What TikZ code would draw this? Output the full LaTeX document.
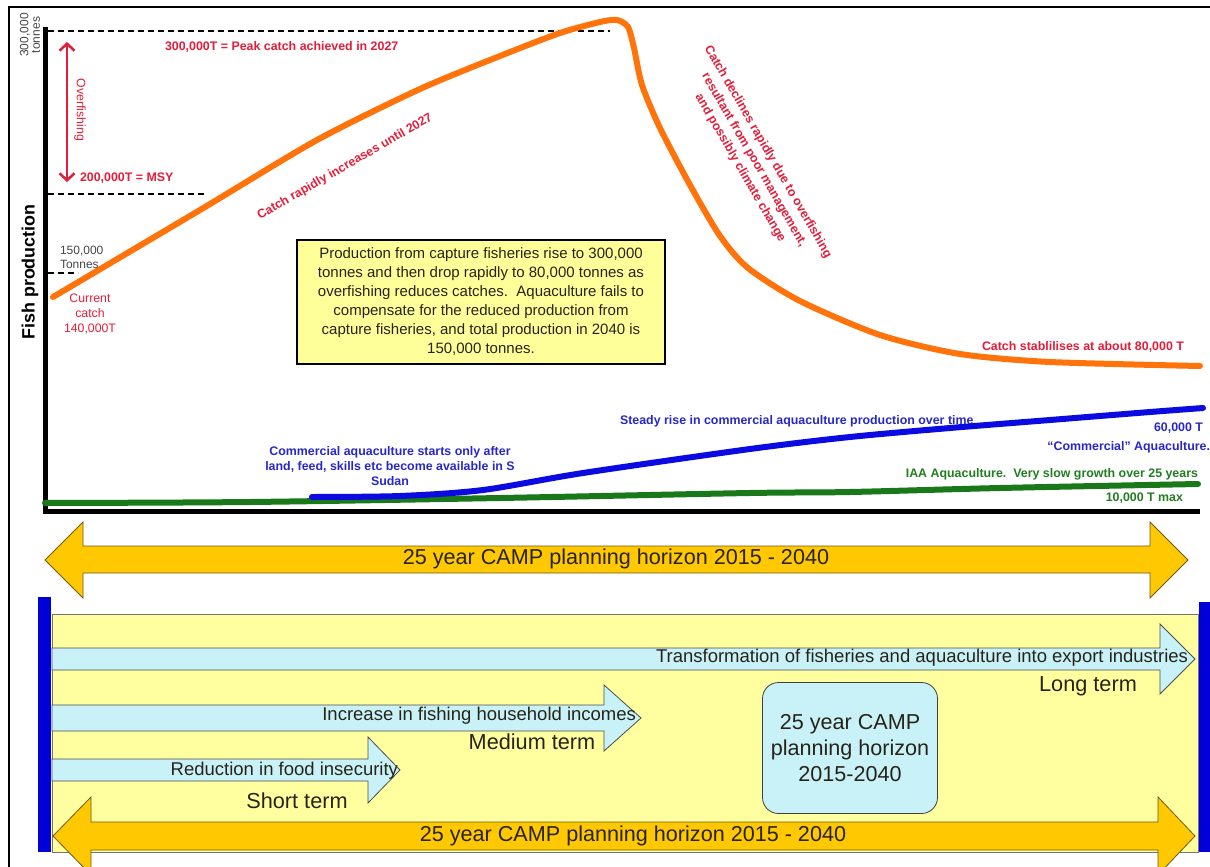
\documentclass[tikz,border=0pt]{standalone}
\usepackage{fontspec}
\setmainfont{Liberation Sans}
\usetikzlibrary{arrows.meta}
\definecolor{txtred}{RGB}{228,30,58}
\definecolor{curveorange}{RGB}{255,115,10}
\definecolor{curveblue}{RGB}{10,10,225}
\definecolor{txtblue}{RGB}{40,40,200}
\definecolor{curvegreen}{RGB}{25,120,25}
\definecolor{txtgreen}{RGB}{35,125,35}
\definecolor{boxyellow}{RGB}{255,255,153}
\definecolor{bgyellow}{RGB}{255,255,160}
\definecolor{gold}{RGB}{255,200,0}
\definecolor{goldedge}{RGB}{110,90,20}
\definecolor{paleblue}{RGB}{200,242,248}
\definecolor{barblue}{RGB}{0,0,215}
\definecolor{darkgraytxt}{RGB}{70,70,70}
\definecolor{darktxt}{RGB}{40,35,25}
\tikzset{
  every node/.style={inner sep=0pt, outer sep=0pt},
  smalltxt/.style={font=\fontsize{12.3}{14}\selectfont},
  boldtxt/.style={font=\fontsize{12.4}{15}\selectfont\bfseries},
  redbold/.style={boldtxt, text=txtred},
  bluebold/.style={boldtxt, text=txtblue},
  greenbold/.style={boldtxt, text=txtgreen},
  dashline/.style={black, line width=2.4pt, dash pattern=on 6pt off 4pt},
  curve/.style={line width=6pt, line cap=round, line join=round},
  goldarrow/.style={fill=gold, draw=goldedge, line width=0.8pt},
  cyanarrow/.style={fill=paleblue, draw=black!70, line width=0.8pt},
  arrowtxt/.style={font=\fontsize{18.5}{20}\selectfont, text=darktxt},
  termtxt/.style={font=\fontsize{21.7}{24}\selectfont, text=darktxt},
  bigtxt/.style={font=\fontsize{21.6}{26}\selectfont, text=darktxt},
}
\begin{document}
\begin{tikzpicture}[x=1pt,y=-1pt]
\useasboundingbox (0,0) rectangle (1210,867);
\fill[white] (0,0) rectangle (1210,867);

% outer frame
\draw[line width=2.5pt] (9,875) -- (9,7) -- (1215,7);

% axes
\coordinate (ytop) at (45,27);
\coordinate (orig) at (45,511);
\coordinate (xend) at (1200,511);
\draw[line width=5pt] (ytop) -- (orig) -- (xend);

% dashed reference lines
\coordinate (d1a) at (48,31);  \coordinate (d1b) at (610,31);
\coordinate (d2a) at (48,194); \coordinate (d2b) at (207,194);
\coordinate (d3a) at (48,273); \coordinate (d3b) at (78,273);
\draw[dashline] (d1a) -- (d1b);
\draw[dashline] (d2a) -- (d2b);
\draw[dashline] (d3a) -- (d3b);

% overfishing arrow
\coordinate (ofa) at (67,42);
\coordinate (ofb) at (67,182);
\draw[txtred, line width=2.5pt, {Straight Barb[length=7pt,width=15pt]}-{Straight Barb[length=7pt,width=15pt]}] (ofa) -- (ofb);

% curves
\draw[curve, curvegreen] plot[smooth, tension=0.5] coordinates {(45,503) (250,502) (500,498) (750,493) (850,492) (1000,488) (1198,484)};
\draw[curve, curveblue] plot[smooth, tension=0.5] coordinates {(312,497) (400,496) (483,490) (583,473) (750,449) (850,437) (950,428) (1050,420) (1150,412) (1203,408)};
\draw[curve, curveorange] plot[smooth, tension=0.45] coordinates {(53,297) (200,210) (317,140) (420,89) (500,56) (560,33) (600,22) (617,20) (628,27) (634,48) (642,85) (660,128) (690,185) (720,236) (748,268) (800,301) (880,335) (960,354) (1050,362) (1200,366)};

% axis labels
\node[font=\fontsize{12}{11.5}\selectfont, text=darkgraytxt, rotate=90, align=center] (ymaxlbl) at (30,35) {300,000\\tonnes};
\node[font=\fontsize{17.9}{20}\selectfont\bfseries, rotate=90] (ylbl) at (30,272) {Fish production};

% chart annotations
\node[redbold, anchor=west] (peak) at (165,47) {300,000T = Peak catch achieved in 2027};
\node[redbold, anchor=west] (msy) at (80,178) {200,000T = MSY};
\node[smalltxt, text=txtred, rotate=-90] (overf) at (80,110) {Overfishing};
\node[font=\fontsize{12}{14}\selectfont, text=darkgraytxt, align=left, anchor=west] (t150) at (60,257) {150,000\\Tonnes};
\node[font=\fontsize{12.3}{15}\selectfont, text=txtred, align=center] (curr) at (90,314) {Current\\catch\\140,000T};
\node[redbold, rotate=30] (incr) at (345,167) {Catch rapidly increases until 2027};
\node[font=\fontsize{12.4}{16}\selectfont\bfseries, text=txtred, rotate=-60, align=center] (decl) at (754,160) {Catch declines rapidly due to overfishing\\resultant from poor management,\\and possibly climate change};
\node[draw=black, line width=1.2pt, fill=boxyellow, minimum width=368pt, minimum height=124pt, align=center, font=\fontsize{15}{19}\selectfont, text=darktxt] (summary) at (481,302) {Production from capture fisheries rise to 300,000\\tonnes and then drop rapidly to 80,000 tonnes as\\overfishing reduces catches.\ \ Aquaculture fails to\\compensate for the reduced production from\\capture fisheries, and total production in 2040 is\\150,000 tonnes.};
\node[redbold, anchor=west] (stab) at (982,347) {Catch stablilises at about 80,000 T};
\node[bluebold, anchor=west] (steady) at (620,421) {Steady rise in commercial aquaculture production over time};
\node[bluebold, align=center] (comstart) at (390,466) {Commercial aquaculture starts only after\\land, feed, skills etc become available in S\\Sudan};
\node[bluebold, anchor=east] (sixty) at (1203,428) {60,000 T};
\node[bluebold, anchor=east] (comaq) at (1210,447) {“Commercial” Aquaculture.};
\node[greenbold, anchor=east] (iaa) at (1198,474) {IAA Aquaculture.\ \ Very slow growth over 25 years};
\node[greenbold, anchor=east] (tenk) at (1183,498) {10,000 T max};

% upper planning horizon arrow
\draw[goldarrow] (45,560) -- (83,522) -- (83,546) -- (1150,546) -- (1150,522) -- (1188,560) -- (1150,598) -- (1150,573) -- (83,573) -- (83,598) -- cycle;
\node[bigtxt] (hor1) at (616,559) {25 year CAMP planning horizon 2015 - 2040};

% lower panel
\fill[bgyellow, draw=black!55, line width=1pt] (52,614) rectangle (1198,852);

\draw[cyanarrow] (52,648) -- (1160,648) -- (1160,624) -- (1195,659) -- (1160,694) -- (1160,670) -- (52,670) -- cycle;
\node[arrowtxt, anchor=east] (trans) at (1188,658) {Transformation of fisheries and aquaculture into export industries};
\node[termtxt] (longt) at (1088,686) {Long term};

\draw[cyanarrow] (52,705) -- (604,705) -- (604,685) -- (641,718) -- (604,751) -- (604,731) -- (52,731) -- cycle;
\node[arrowtxt, anchor=east] (incomes) at (636,716) {Increase in fishing household incomes};
\node[termtxt] (medt) at (532,742) {Medium term};

\draw[cyanarrow] (52,759) -- (368,759) -- (368,737) -- (400,770) -- (368,803) -- (368,781) -- (52,781) -- cycle;
\node[arrowtxt, anchor=east] (food) at (398,771) {Reduction in food insecurity};
\node[termtxt] (shortt) at (297,801) {Short term};

\node[draw=black!75, line width=0.8pt, fill=paleblue, rounded corners=16pt, minimum width=175pt, minimum height=131pt, bigtxt, align=center] (camp) at (850,748) {25 year CAMP\\planning horizon\\2015-2040};

\draw[goldarrow] (53,836) -- (91,797) -- (91,822) -- (1158,822) -- (1158,797) -- (1195,836) -- (1158,875) -- (1158,850) -- (91,850) -- (91,875) -- cycle;
\node[bigtxt] (hor2) at (633,836) {25 year CAMP planning horizon 2015 - 2040};

% blue end bars
\fill[barblue] (38,597) rectangle (51,852);
\fill[barblue] (1199,602) rectangle (1210,852);
\end{tikzpicture}
\end{document}
